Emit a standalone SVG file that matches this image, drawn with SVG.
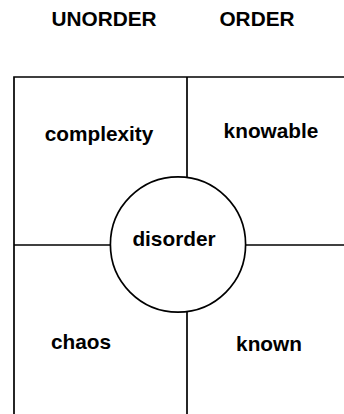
<svg xmlns="http://www.w3.org/2000/svg" width="344" height="414" viewBox="0 0 344 414">
<style>
.ln{fill:none;stroke:#000;stroke-width:1.7}
.t{font-family:"Liberation Sans",Arial,sans-serif;font-weight:bold;font-size:20.8px;fill:#000;text-anchor:middle}
</style>
<rect width="344" height="414" fill="#fff"/>
<g id="headers">
<text class="t" x="104" y="26">UNORDER</text>
<text class="t" x="257" y="26">ORDER</text>
</g>
<g id="frame">
<path class="ln" d="M14,420 V77 H350"/>
</g>
<g id="connectors">
<line class="ln" x1="187" y1="77" x2="187" y2="177"/>
<line class="ln" x1="187" y1="312" x2="187" y2="420"/>
<line class="ln" x1="14" y1="245" x2="110.5" y2="245"/>
<line class="ln" x1="245.5" y1="245" x2="350" y2="245"/>
</g>
<g id="complexity"><text class="t" x="99" y="141">complexity</text></g>
<g id="knowable"><text class="t" x="271" y="138">knowable</text></g>
<g id="chaos"><text class="t" x="81" y="349">chaos</text></g>
<g id="known"><text class="t" x="269" y="351">known</text></g>
<g id="disorder">
<circle class="ln" cx="178" cy="244.5" r="67.6"/>
<text class="t" x="174" y="246">disorder</text>
</g>
</svg>
